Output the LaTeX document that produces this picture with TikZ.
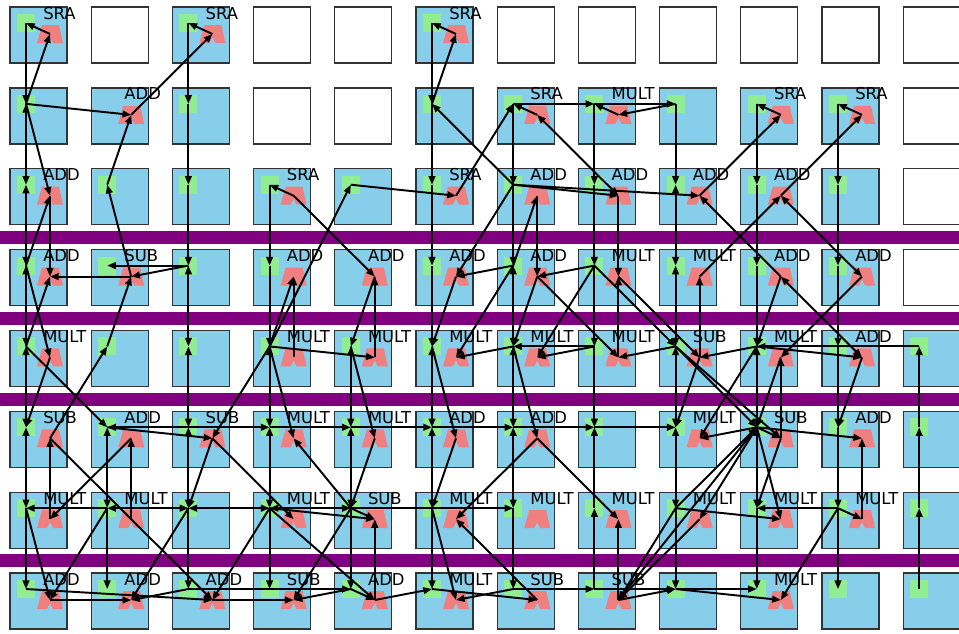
\documentclass[tikz,border=0pt]{standalone}
\usepackage{fontspec}
\setmainfont{DejaVu Sans}
\usetikzlibrary{arrows.meta}
\definecolor{cellblue}{RGB}{135,206,235}
\definecolor{regg}{RGB}{144,238,144}
\definecolor{alur}{RGB}{240,128,128}
\definecolor{barp}{RGB}{128,0,128}
\begin{document}
\begin{tikzpicture}[x=0.75pt,y=-0.75pt,
  cellbox/.style={draw=black!80,line width=1pt},
  ed/.style={draw=black,line width=1.45pt,-{Triangle[length=6.5pt,width=5pt]}},
  eb/.style={draw=black,line width=1.45pt,{Triangle[length=6.5pt,width=5pt]}-{Triangle[length=6.5pt,width=5pt]}},
  oplabel/.style={anchor=base west,inner sep=0pt,font=\fontsize{12.3pt}{14pt}\selectfont}]
\useasboundingbox (0,0) rectangle (959,633);
\clip (0,0) rectangle (959,633);
% purple bars
\foreach \yy in {237.5,318.5,399,560.5} \fill[barp] (0,\yy-6.5) rectangle (959,\yy+6.5);
% coordinates
\foreach \r in {0,...,7} \foreach \c in {0,...,11} {
  \coordinate (g\r-\c) at ({26+81.2*\c},{23+80.86*\r});
  \coordinate (a\r-\c) at ({50+81.2*\c},{34+80.86*\r});
}
\newcommand\cellxy[2]{\pgfmathsetmacro\xo{10+81.2*#2}\pgfmathsetmacro\yo{7+80.86*#1}}
\newcommand\wcell[2]{\cellxy{#1}{#2}\draw[cellbox,fill=white] (\xo,\yo) rectangle ++(57,56);}
\newcommand\bcell[2]{\cellxy{#1}{#2}\draw[cellbox,fill=cellblue] (\xo,\yo) rectangle ++(57,56);}
\newcommand\greg[2]{\cellxy{#1}{#2}\fill[regg] (\xo+7,\yo+7) rectangle ++(18,18);}
\newcommand\alu[3]{\cellxy{#1}{#2}\fill[alur] (\xo+32,\yo+18) -- (\xo+49,\yo+18) -- (\xo+53,\yo+36) -- (\xo+43,\yo+36) -- (\xo+40,\yo+30) -- (\xo+37,\yo+36) -- (\xo+27,\yo+36) -- cycle;
  \node[oplabel] (t#1-#2) at (\xo+33,\yo+12) {#3};}
\newcommand\gc[2]{\bcell{#1}{#2}\greg{#1}{#2}}
\newcommand\ac[3]{\bcell{#1}{#2}\alu{#1}{#2}{#3}}
\newcommand\gac[3]{\bcell{#1}{#2}\greg{#1}{#2}\alu{#1}{#2}{#3}}
% row 0
\gac{0}{0}{SRA}\wcell{0}{1}\gac{0}{2}{SRA}\wcell{0}{3}\wcell{0}{4}\gac{0}{5}{SRA}
\wcell{0}{6}\wcell{0}{7}\wcell{0}{8}\wcell{0}{9}\wcell{0}{10}\wcell{0}{11}
% row 1
\gc{1}{0}\ac{1}{1}{ADD}\gc{1}{2}\wcell{1}{3}\wcell{1}{4}\gc{1}{5}\gac{1}{6}{SRA}\gac{1}{7}{MULT}
\gc{1}{8}\gac{1}{9}{SRA}\gac{1}{10}{SRA}\wcell{1}{11}
% row 2
\gac{2}{0}{ADD}\gc{2}{1}\gc{2}{2}\gac{2}{3}{SRA}\gc{2}{4}\gac{2}{5}{SRA}\gac{2}{6}{ADD}\gac{2}{7}{ADD}
\gac{2}{8}{ADD}\gac{2}{9}{ADD}\gc{2}{10}\wcell{2}{11}
% row 3
\gac{3}{0}{ADD}\gac{3}{1}{SUB}\gc{3}{2}\gac{3}{3}{ADD}\ac{3}{4}{ADD}\gac{3}{5}{ADD}\gac{3}{6}{ADD}\gac{3}{7}{MULT}
\gac{3}{8}{MULT}\gac{3}{9}{ADD}\gac{3}{10}{ADD}\wcell{3}{11}
% row 4
\gac{4}{0}{MULT}\gc{4}{1}\gc{4}{2}\gac{4}{3}{MULT}\gac{4}{4}{MULT}\gac{4}{5}{MULT}\gac{4}{6}{MULT}\gac{4}{7}{MULT}
\gac{4}{8}{SUB}\gac{4}{9}{MULT}\gac{4}{10}{ADD}\gc{4}{11}
% row 5
\gac{5}{0}{SUB}\gac{5}{1}{ADD}\gac{5}{2}{SUB}\gac{5}{3}{MULT}\gac{5}{4}{MULT}\gac{5}{5}{ADD}\gac{5}{6}{ADD}\gc{5}{7}
\gac{5}{8}{MULT}\gac{5}{9}{SUB}\gac{5}{10}{ADD}\gc{5}{11}
% row 6
\gac{6}{0}{MULT}\gac{6}{1}{MULT}\gc{6}{2}\gac{6}{3}{MULT}\gac{6}{4}{SUB}\gac{6}{5}{MULT}\gac{6}{6}{MULT}\gac{6}{7}{MULT}
\gac{6}{8}{MULT}\gac{6}{9}{MULT}\gac{6}{10}{MULT}\gc{6}{11}
% row 7
\gac{7}{0}{ADD}\gac{7}{1}{ADD}\gac{7}{2}{ADD}\gac{7}{3}{SUB}\gac{7}{4}{ADD}\gac{7}{5}{MULT}\gac{7}{6}{SUB}\gac{7}{7}{SUB}
\gc{7}{8}\gac{7}{9}{MULT}\gc{7}{10}\gc{7}{11}
% ---------- vertical routes ----------
\draw[ed] (g0-0)--(g1-0); \draw[eb] (g1-0)--(g2-0); \draw[eb] (g2-0)--(g3-0); \draw[eb] (g3-0)--(g4-0);
\draw[eb] (g4-0)--(g5-0); \draw[eb] (g5-0)--(g6-0); \draw[ed] (g6-0)--(g7-0);
\draw[eb] (g5-1)--(g6-1); \draw[ed] (g6-1)--(g7-1);
\draw[ed] (g0-2)--(g1-2); \draw[ed] (g1-2)--(g2-2); \draw[ed] (g2-2)--(g3-2); \draw[eb] (g3-2)--(g4-2);
\draw[eb] (g4-2)--(g5-2); \draw[eb] (g5-2)--(g6-2); \draw[ed] (g6-2)--(g7-2);
\draw[ed] (g2-3)--(g3-3); \draw[ed] (g3-3)--(g4-3); \draw[eb] (g4-3)--(g5-3); \draw[eb] (g5-3)--(g6-3); \draw[ed] (g6-3)--(g7-3);
\draw[eb] (g4-4)--(g5-4); \draw[eb] (g5-4)--(g6-4); \draw[ed] (g6-4)--(g7-4);
\draw[ed] (g0-5)--(g1-5); \draw[ed] (g1-5)--(g2-5); \draw[ed] (g2-5)--(g3-5); \draw[ed] (g3-5)--(g4-5);
\draw[eb] (g4-5)--(g5-5); \draw[eb] (g5-5)--(g6-5); \draw[ed] (g6-5)--(g7-5);
\draw[ed] (g1-6)--(g2-6); \draw[ed] (g2-6)--(g3-6); \draw[eb] (g3-6)--(g4-6); \draw[eb] (g4-6)--(g5-6);
\draw[eb] (g5-6)--(g6-6); \draw[ed] (g6-6)--(g7-6);
\draw[ed] (g1-7)--(g2-7); \draw[ed] (g2-7)--(g3-7); \draw[ed] (g3-7)--(g4-7); \draw[ed] (g4-7)--(g5-7);
\draw[ed] (g6-7)--(g5-7); \draw[ed] (g7-7)--(g6-7);
\draw[ed] (g1-8)--(g2-8); \draw[eb] (g2-8)--(g3-8); \draw[eb] (g3-8)--(g4-8); \draw[eb] (g4-8)--(g5-8);
\draw[eb] (g5-8)--(g6-8); \draw[ed] (g6-8)--(g7-8);
\draw[ed] (g1-9)--(g2-9); \draw[ed] (g2-9)--(g3-9); \draw[ed] (g3-9)--(g4-9); \draw[eb] (g4-9)--(g5-9);
\draw[eb] (g5-9)--(g6-9); \draw[ed] (g6-9)--(g7-9);
\draw[ed] (g1-10)--(g2-10); \draw[ed] (g2-10)--(g3-10); \draw[ed] (g3-10)--(g4-10); \draw[ed] (g4-10)--(g5-10);
\draw[ed] (g5-10)--(g6-10); \draw[ed] (g6-10)--(g7-10);
\draw[ed] (g5-11)--(g4-11); \draw[ed] (g6-11)--(g5-11); \draw[ed] (g7-11)--(g6-11);
\draw[ed] (a2-0)--(a3-0); \draw[ed] (a6-0)--(a5-0); \draw[ed] (a6-1)--(a5-1);
\draw[ed] (a4-4)--(a3-4); \draw[ed] (a7-4)--(a6-4); \draw[ed] (a4-8)--(a3-8);
\draw[ed] (a5-9)--(a4-9); \draw[ed] (a6-10)--(a5-10); \draw[ed] (a7-7)--(a6-7);
\draw[ed] (a2-6)--(a3-6); \draw[ed] (a2-7)--(a3-7); \draw[ed] (a4-7)--(a3-7); \draw[ed] (a4-3)--(a3-3);
% ---------- band 0-1 ----------
\draw[ed] (a0-0)--(g0-0); \draw[ed] (g1-0)--(a0-0); \draw[ed] (g1-0)--(a1-1); \draw[ed] (a1-1)--(a0-2);
\draw[ed] (a0-2)--(g0-2); \draw[ed] (a0-5)--(g0-5); \draw[ed] (g1-5)--(a0-5); \draw[ed] (a1-6)--(g1-6);
\draw[ed] (g1-6)--(g1-7); \draw[ed] (a1-7)--(g1-7); \draw[ed] (g1-7)--(g1-8); \draw[ed] (g1-8)--(a1-7);
\draw[ed] (a1-9)--(g1-9); \draw[ed] (a1-10)--(g1-10);
% ---------- band 1-2 ----------
\draw[ed] (g1-0)--(a2-0); \draw[ed] (g2-1)--(a1-1); \draw[ed] (a2-5)--(g1-6); \draw[ed] (g2-4)--(a2-5);
\draw[eb] (a1-6)--(a2-7); \draw[ed] (g2-6)--(a2-7); \draw[ed] (g2-6)--(a2-8); \draw[ed] (a2-8)--(a1-9);
\draw[ed] (a2-9)--(a1-10); \draw[ed] (a2-3)--(g2-3); \draw[ed] (g2-6)--(g1-5);
% ---------- band 2-3 ----------
\draw[ed] (g3-0)--(a2-0); \draw[ed] (a3-1)--(g2-1); \draw[ed] (g4-3)--(g2-4); \draw[ed] (a2-3)--(a3-4);
\draw[ed] (g2-6)--(a3-5); \draw[ed] (g3-6)--(a2-6); \draw[ed] (g3-7)--(a3-6); \draw[ed] (a3-9)--(a2-8);
\draw[ed] (a3-8)--(a2-9); \draw[eb] (a3-10)--(a2-9);
% ---------- row 3 ----------
\draw[ed] (g3-2)--(g3-1); \draw[ed] (g3-2)--(a3-1); \draw[ed] (a3-1)--(a3-0); \draw[ed] (g3-6)--(a3-5);
% ---------- band 3-4 ----------
\draw[ed] (g4-0)--(a3-0); \draw[ed] (g3-0)--(a4-0); \draw[ed] (a5-0)--(g4-1); \draw[ed] (g4-1)--(a3-1);
\draw[ed] (g4-3)--(a3-3); \draw[ed] (a3-4)--(g4-4); \draw[ed] (g4-3)--(a4-4); \draw[ed] (a3-5)--(g4-5);
\draw[ed] (g4-6)--(a4-5); \draw[ed] (g3-6)--(a4-5); \draw[ed] (a3-6)--(g4-6); \draw[ed] (g3-7)--(a4-6);
\draw[ed] (g4-7)--(a4-6); \draw[ed] (a3-6)--(a4-7);
\draw[ed] (a3-9)--(g4-9); \draw[ed] (a3-10)--(a4-9); \draw[eb] (a3-9)--(a4-10); \draw[ed] (a3-7)--(a4-8);
\draw[ed] (g3-7)--(g4-8);
% ---------- row 4 ----------
\draw[ed] (g4-9)--(a4-8); \draw[ed] (g4-9)--(a4-10); \draw[ed] (g4-11)--(g4-9);
\draw[ed] (g4-7)--(g4-6); \draw[ed] (g4-8)--(a4-7);
% ---------- band 4-5 ----------
\draw[ed] (a4-0)--(g5-0); \draw[ed] (g4-0)--(g5-1); \draw[ed] (g4-3)--(a5-2); \draw[ed] (g4-3)--(a5-3);
\draw[ed] (g4-4)--(a5-4); \draw[ed] (g4-5)--(a5-5); \draw[ed] (g4-6)--(a5-6); \draw[ed] (g4-9)--(a5-8);
\draw[ed] (g4-8)--(g5-9); \draw[ed] (a4-8)--(g5-8); \draw[ed] (a4-10)--(g5-10); \draw[ed] (a4-9)--(g5-9);
\draw[ed] (g4-8)--(a5-9);
% ---------- row 5 ----------
\draw[ed] (g5-2)--(g5-1); \draw[ed] (g5-2)--(g5-3); \draw[ed] (g5-3)--(g5-4); \draw[ed] (g5-4)--(g5-5);
\draw[ed] (g5-5)--(g5-6); \draw[ed] (g5-6)--(g5-7); \draw[ed] (g5-7)--(g5-8);
\draw[ed] (g5-1)--(a5-2); \draw[ed] (g5-9)--(a5-8); \draw[ed] (g5-9)--(a5-9); \draw[ed] (g5-9)--(a5-10);
% ---------- band 5-6 ----------
\draw[ed] (a5-0)--(a7-2); \draw[ed] (a5-1)--(a6-0); \draw[ed] (a5-2)--(a6-3); \draw[ed] (a5-2)--(g6-2);
\draw[ed] (g6-4)--(a5-3); \draw[ed] (a5-4)--(g6-4);
\draw[ed] (a5-5)--(g6-5); \draw[ed] (a5-6)--(a6-5); \draw[ed] (a5-6)--(a6-7); \draw[ed] (g5-9)--(a6-8);
\draw[ed] (g6-8)--(g5-9); \draw[ed] (g6-3)--(a6-4); \draw[ed] (g5-9)--(a6-9); \draw[ed] (a5-9)--(g6-9);
% ---------- row 6 ----------
\draw[ed] (g6-1)--(g6-0); \draw[eb] (g6-1)--(g6-2); \draw[eb] (g6-2)--(g6-3); \draw[eb] (g6-3)--(g6-4);
\draw[ed] (g6-4)--(g6-6); \draw[ed] (g6-8)--(a6-9); \draw[ed] (g6-10)--(g6-9); \draw[ed] (g6-10)--(a6-10);
\draw[ed] (g6-4)--(a6-4);
% ---------- band 6-7 ----------
\draw[ed] (g6-0)--(a7-0); \draw[ed] (g6-1)--(a7-0); \draw[ed] (g6-2)--(a7-1); \draw[ed] (g6-5)--(a7-5);
\draw[ed] (g6-3)--(a7-2); \draw[ed] (g6-3)--(a7-4); \draw[ed] (g6-4)--(a7-3);
\draw[ed] (a7-6)--(a6-5); \draw[ed] (g6-8)--(a7-7); \draw[ed] (a6-8)--(a7-7); \draw[ed] (g6-10)--(a7-9);
\draw[ed] (g5-9)--(a7-7);
% ---------- row 7 ----------
\draw[ed] (g7-0)--(a7-2); \draw[ed] (a7-0)--(a7-1); \draw[ed] (g7-2)--(a7-1); \draw[ed] (a7-2)--(a7-3);
\draw[ed] (g7-2)--(g7-4); \draw[ed] (g7-4)--(a7-3); \draw[ed] (g7-4)--(a7-4); \draw[ed] (a7-4)--(g7-5);
\draw[ed] (g7-6)--(a7-5); \draw[ed] (g7-5)--(a7-6); \draw[ed] (g7-6)--(g7-7); \draw[ed] (g7-7)--(g7-8);
\draw[ed] (g7-8)--(g7-9); \draw[ed] (g7-8)--(a7-9); \draw[ed] (a7-7)--(g7-8);
\end{tikzpicture}
\end{document}
